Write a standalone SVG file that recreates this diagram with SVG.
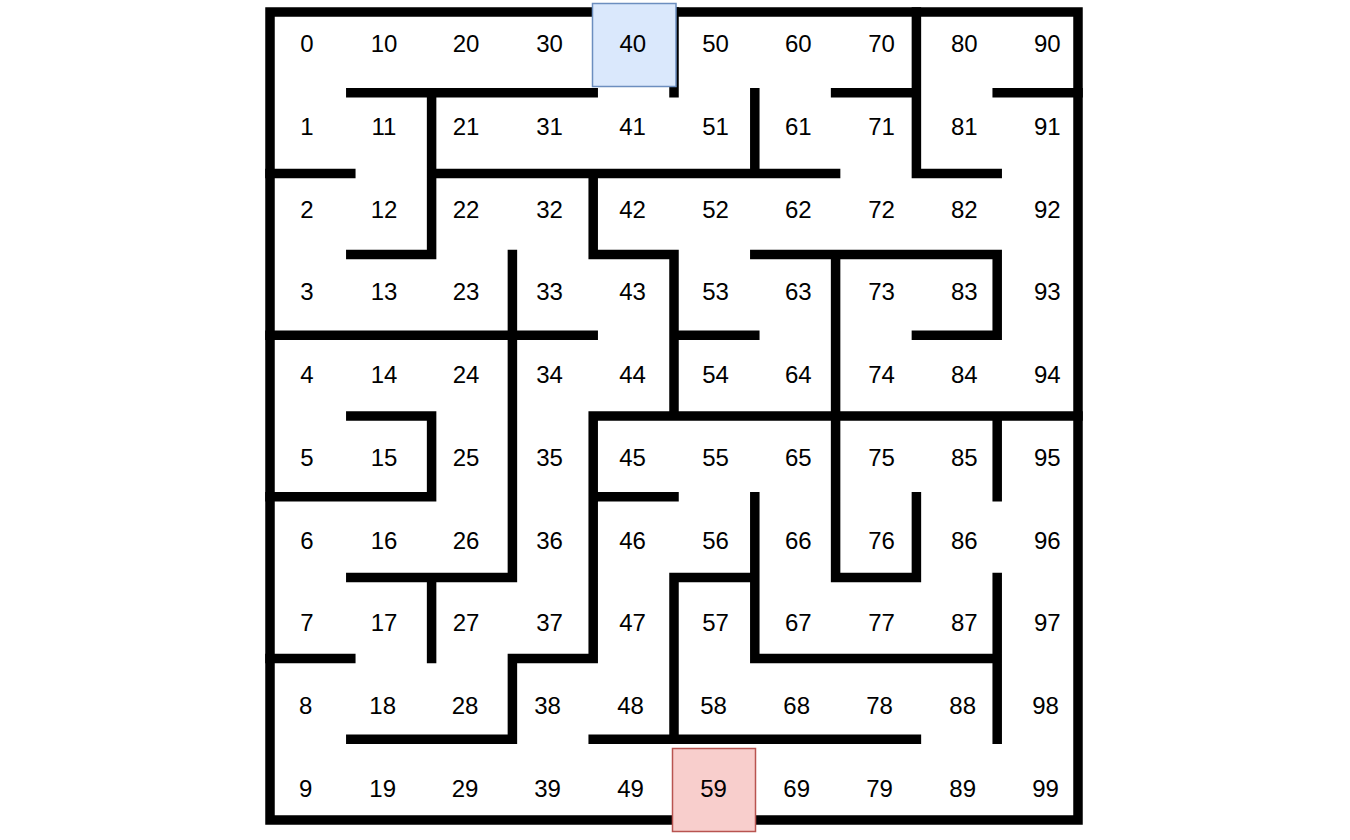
<svg xmlns="http://www.w3.org/2000/svg" width="1350" height="840" viewBox="0 0 1350 840">
<style>
.wall{fill:none;stroke:#000;stroke-width:9.5;stroke-linecap:square;stroke-linejoin:miter}
.lbl{font-family:"Liberation Sans",Arial,sans-serif;font-size:24px;fill:#000;text-anchor:middle}
</style>
<rect width="1350" height="840" fill="#fff"/>
<g id="walls" class="wall">
<path id="border" d="M593.2 12 H270 V820 H674 M754.8 820 H1078 V12 H674"/>
<path id="inner" d="M350.8 92.8 H593.2 M835.6 92.8 H916.4 M997.2 92.8 H1078
M270 173.6 H350.8 M431.6 173.6 H835.6 M916.4 173.6 H997.2
M350.8 254.4 H431.6 M593.2 254.4 H674 M754.8 254.4 H997.2
M270 335.2 H593.2 M674 335.2 H754.8 M916.4 335.2 H997.2
M350.8 416 H431.6 M593.2 416 H1078
M270 496.8 H431.6 M593.2 496.8 H674
M350.8 577.6 H512.4 M674 577.6 H754.8 M835.6 577.6 H916.4
M270 658.4 H350.8 M512.4 658.4 H593.2 M754.8 658.4 H997.2
M350.8 739.2 H512.4 M593.2 739.2 H916.4
M431.6 92.8 V254.4 M431.6 416 V496.8 M431.6 577.6 V658.4
M512.4 254.4 V577.6 M512.4 658.4 V739.2
M593.2 173.6 V254.4 M593.2 416 V658.4
M674 12 V92.8 M674 254.4 V416 M674 577.6 V739.2
M754.8 92.8 V173.6 M754.8 496.8 V658.4
M835.6 254.4 V577.6
M916.4 12 V173.6 M916.4 496.8 V577.6
M997.2 254.4 V335.2 M997.2 416 V496.8 M997.2 577.6 V739.2"/>
</g>
<g id="start">
<rect x="592.5" y="3.5" width="83.5" height="83" fill="#dae8fc" stroke="#6c8ebf" stroke-width="1.5"/>
</g>
<g id="end">
<rect x="672.5" y="748.5" width="83" height="83" fill="#f8cecc" stroke="#b85450" stroke-width="1.5"/>
</g>
<g id="labels" class="lbl">
<text x="307" y="52">0</text><text x="384" y="52">10</text><text x="466" y="52">20</text><text x="549.5" y="52">30</text><text x="632.8" y="51.5">40</text><text x="715.5" y="52">50</text><text x="798.3" y="52">60</text><text x="881.5" y="52">70</text><text x="964.3" y="52">80</text><text x="1047.3" y="52">90</text>
<text x="307" y="134.7">1</text><text x="384" y="134.7">11</text><text x="466" y="134.7">21</text><text x="549.5" y="134.7">31</text><text x="632.5" y="134.7">41</text><text x="715.5" y="134.7">51</text><text x="798.3" y="134.7">61</text><text x="881.5" y="134.7">71</text><text x="964.3" y="134.7">81</text><text x="1047.3" y="134.7">91</text>
<text x="307" y="217.5">2</text><text x="384" y="217.5">12</text><text x="466" y="217.5">22</text><text x="549.5" y="217.5">32</text><text x="632.5" y="217.5">42</text><text x="715.5" y="217.5">52</text><text x="798.3" y="217.5">62</text><text x="881.5" y="217.5">72</text><text x="964.3" y="217.5">82</text><text x="1047.3" y="217.5">92</text>
<text x="307" y="300.3">3</text><text x="384" y="300.3">13</text><text x="466" y="300.3">23</text><text x="549.5" y="300.3">33</text><text x="632.5" y="300.3">43</text><text x="715.5" y="300.3">53</text><text x="798.3" y="300.3">63</text><text x="881.5" y="300.3">73</text><text x="964.3" y="300.3">83</text><text x="1047.3" y="300.3">93</text>
<text x="307" y="382.8">4</text><text x="384" y="382.8">14</text><text x="466" y="382.8">24</text><text x="549.5" y="382.8">34</text><text x="632.5" y="382.8">44</text><text x="715.5" y="382.8">54</text><text x="798.3" y="382.8">64</text><text x="881.5" y="382.8">74</text><text x="964.3" y="382.8">84</text><text x="1047.3" y="382.8">94</text>
<text x="307" y="466">5</text><text x="384" y="466">15</text><text x="466" y="466">25</text><text x="549.5" y="466">35</text><text x="632.5" y="466">45</text><text x="715.5" y="466">55</text><text x="798.3" y="466">65</text><text x="881.5" y="466">75</text><text x="964.3" y="466">85</text><text x="1047.3" y="466">95</text>
<text x="307" y="548.6">6</text><text x="384" y="548.6">16</text><text x="466" y="548.6">26</text><text x="549.5" y="548.6">36</text><text x="632.5" y="548.6">46</text><text x="715.5" y="548.6">56</text><text x="798.3" y="548.6">66</text><text x="881.5" y="548.6">76</text><text x="964.3" y="548.6">86</text><text x="1047.3" y="548.6">96</text>
<text x="307" y="631.3">7</text><text x="384" y="631.3">17</text><text x="466" y="631.3">27</text><text x="549.5" y="631.3">37</text><text x="632.5" y="631.3">47</text><text x="715.5" y="631.3">57</text><text x="798.3" y="631.3">67</text><text x="881.5" y="631.3">77</text><text x="964.3" y="631.3">87</text><text x="1047.3" y="631.3">97</text>
<text x="305.7" y="714">8</text><text x="382.7" y="714">18</text><text x="465" y="714">28</text><text x="547.5" y="714">38</text><text x="630.5" y="714">48</text><text x="713.5" y="714">58</text><text x="796.7" y="714">68</text><text x="879.5" y="714">78</text><text x="962.7" y="714">88</text><text x="1045.5" y="714">98</text>
<text x="305.7" y="796.7">9</text><text x="382.7" y="796.7">19</text><text x="465" y="796.7">29</text><text x="547.5" y="796.7">39</text><text x="630.5" y="796.7">49</text><text x="713.5" y="796.7">59</text><text x="796.7" y="796.7">69</text><text x="879.5" y="796.7">79</text><text x="962.7" y="796.7">89</text><text x="1045.5" y="796.7">99</text>
</g>
</svg>
